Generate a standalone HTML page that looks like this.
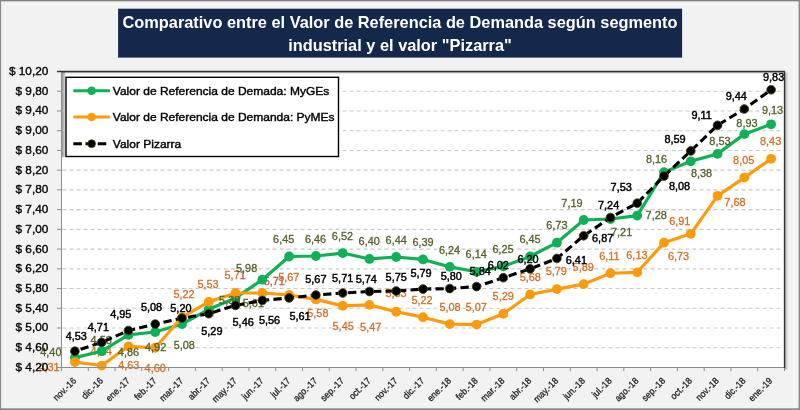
<!DOCTYPE html>
<html lang="es">
<head>
<meta charset="utf-8">
<title>Comparativo entre el Valor de Referencia de Demanda según segmento industrial y el valor "Pizarra"</title>
<style>
html,body{margin:0;padding:0;background:#f2f2f2;}
body{width:800px;height:410px;overflow:hidden;font-family:"Liberation Sans",sans-serif;}
svg{display:block;font-family:"Liberation Sans",sans-serif;will-change:transform;}
.dl text{font-size:10.9px;text-anchor:middle;}
.yl text{font-size:11.8px;text-anchor:end;fill:#000;stroke:#000;stroke-width:0.35px;}
.xl text{font-size:9.3px;text-anchor:end;fill:#222;stroke:#222;stroke-width:0.3px;}
.lg text{font-size:11.5px;fill:#000;stroke:#000;stroke-width:0.4px;}
.tt text{font-size:16.4px;font-weight:bold;fill:#fff;text-anchor:middle;}
</style>
</head>
<body>
<svg width="800" height="410" viewBox="0 0 800 410">
<defs>
<linearGradient id="shR" x1="0" x2="1" y1="0" y2="0"><stop offset="0" stop-color="#000" stop-opacity="0.32"/><stop offset="1" stop-color="#000" stop-opacity="0"/></linearGradient>
<linearGradient id="shB" x1="0" x2="0" y1="0" y2="1"><stop offset="0" stop-color="#000" stop-opacity="0.32"/><stop offset="1" stop-color="#000" stop-opacity="0"/></linearGradient>
<linearGradient id="shL" x1="0" x2="1" y1="0" y2="0"><stop offset="0" stop-color="#000" stop-opacity="0.42"/><stop offset="1" stop-color="#000" stop-opacity="0.12"/></linearGradient>
</defs>

<rect x="0" y="0" width="800" height="410" fill="#f2f2f2"/>
<rect x="5.5" y="4.5" width="789" height="399.5" fill="none" stroke="#f8f8f8" stroke-width="1"/>
<rect x="0" y="0" width="800" height="1.3" fill="#7f7f7f"/>
<rect x="0" y="0" width="1.1" height="410" fill="#8a8a8a"/>
<rect x="798.6" y="0" width="1.4" height="410" fill="#8a8a8a"/>
<rect x="0" y="408.3" width="800" height="1.7" fill="#8a8a8a"/>
<rect x="118.1" y="8.7" width="564" height="48.9" fill="#13284a"/>
<g class="tt">
<text x="400" y="28.2" textLength="555" lengthAdjust="spacingAndGlyphs">Comparativo entre el Valor de Referencia de Demanda según segmento</text>
<text x="400" y="51.4" textLength="223.7" lengthAdjust="spacingAndGlyphs">industrial y el valor "Pizarra"</text>
</g>
<rect x="785.0" y="72.5" width="3.2" height="297.0" fill="url(#shR)"/>
<rect x="61.5" y="71.5" width="723.0" height="296.0" fill="#fff"/>
<rect x="61.5" y="72.0" width="723.0" height="2" fill="url(#shB)"/>
<rect x="61.9" y="72.0" width="3.6" height="85.0" fill="url(#shL)"/>
<g stroke="#c9c9c9" stroke-width="1.1" stroke-dasharray="4 3">
<line x1="62.5" y1="347.77" x2="783.5" y2="347.77"/>
<line x1="62.5" y1="328.03" x2="783.5" y2="328.03"/>
<line x1="62.5" y1="308.30" x2="783.5" y2="308.30"/>
<line x1="62.5" y1="288.57" x2="783.5" y2="288.57"/>
<line x1="62.5" y1="268.83" x2="783.5" y2="268.83"/>
<line x1="62.5" y1="249.10" x2="783.5" y2="249.10"/>
<line x1="62.5" y1="229.37" x2="783.5" y2="229.37"/>
<line x1="62.5" y1="209.63" x2="783.5" y2="209.63"/>
<line x1="62.5" y1="189.90" x2="783.5" y2="189.90"/>
<line x1="62.5" y1="170.17" x2="783.5" y2="170.17"/>
<line x1="62.5" y1="150.43" x2="783.5" y2="150.43"/>
<line x1="62.5" y1="130.70" x2="783.5" y2="130.70"/>
<line x1="62.5" y1="110.97" x2="783.5" y2="110.97"/>
<line x1="62.5" y1="91.23" x2="783.5" y2="91.23"/>
</g>
<g class="dl" fill="#d46f24" stroke="#d46f24" stroke-width="0.3">
<text x="49.09" y="370.88">4,31</text>
<text x="101.22" y="354.53">4,24</text>
<text x="128.74" y="368.89">4,63</text>
<text x="155.22" y="371.77">4,60</text>
<text x="184.10" y="297.88">5,22</text>
<text x="208.08" y="288.09">5,53</text>
<text x="235.16" y="279.41">5,7<tspan fill="#c8504a" stroke="#c8504a">1</tspan></text>
<text x="274.28" y="284.71" fill="#c4573a" stroke="#c4573a">5,71</text>
<text x="288.81" y="280.98">5,67</text>
<text x="317.89" y="317.22">5,58</text>
<text x="343.17" y="330.04">5,45</text>
<text x="370.69" y="330.55">5,47</text>
<text x="396.02" y="296.56">5,33</text>
<text x="422.00" y="303.58">5,22</text>
<text x="450.08" y="311.09">5,08</text>
<text x="476.21" y="310.58">5,07</text>
<text x="503.18" y="300.13">5,29</text>
<text x="530.31" y="280.59">5,68</text>
<text x="556.24" y="274.96">5,79</text>
<text x="583.22" y="271.23">5,89</text>
<text x="609.44" y="260.38">6,11</text>
<text x="636.92" y="258.79">6,13</text>
<text x="678.60" y="260.19">6,73</text>
<text x="679.78" y="225.01">6,91</text>
<text x="734.96" y="206.07">7,68</text>
<text x="743.68" y="163.57">8,05</text>
<text x="770.61" y="145.02">8,43</text>
</g>
<polyline points="74.89,357.63 101.67,351.22 128.44,334.94 155.22,331.98 182.00,324.09 208.78,309.29 235.56,297.94 262.33,279.69 289.11,256.50 315.89,256.01 342.67,253.05 369.44,258.97 396.22,256.99 423.00,259.46 449.78,266.86 476.56,271.79 503.33,266.37 530.11,256.50 556.89,242.69 583.67,219.99 610.44,219.01 637.22,215.55 664.00,172.14 690.78,161.29 717.56,153.89 744.33,134.15 771.11,124.29" fill="none" stroke="#10b056" stroke-width="3.2" stroke-linejoin="round"/>
<g fill="#10b056">
<circle cx="74.89" cy="357.63" r="4.9"/>
<circle cx="101.67" cy="351.22" r="4.9"/>
<circle cx="128.44" cy="334.94" r="4.9"/>
<circle cx="155.22" cy="331.98" r="4.9"/>
<circle cx="182.00" cy="324.09" r="4.9"/>
<circle cx="208.78" cy="309.29" r="4.9"/>
<circle cx="235.56" cy="297.94" r="4.9"/>
<circle cx="262.33" cy="279.69" r="4.9"/>
<circle cx="289.11" cy="256.50" r="4.9"/>
<circle cx="315.89" cy="256.01" r="4.9"/>
<circle cx="342.67" cy="253.05" r="4.9"/>
<circle cx="369.44" cy="258.97" r="4.9"/>
<circle cx="396.22" cy="256.99" r="4.9"/>
<circle cx="423.00" cy="259.46" r="4.9"/>
<circle cx="449.78" cy="266.86" r="4.9"/>
<circle cx="476.56" cy="271.79" r="4.9"/>
<circle cx="503.33" cy="266.37" r="4.9"/>
<circle cx="530.11" cy="256.50" r="4.9"/>
<circle cx="556.89" cy="242.69" r="4.9"/>
<circle cx="583.67" cy="219.99" r="4.9"/>
<circle cx="610.44" cy="219.01" r="4.9"/>
<circle cx="637.22" cy="215.55" r="4.9"/>
<circle cx="664.00" cy="172.14" r="4.9"/>
<circle cx="690.78" cy="161.29" r="4.9"/>
<circle cx="717.56" cy="153.89" r="4.9"/>
<circle cx="744.33" cy="134.15" r="4.9"/>
<circle cx="771.11" cy="124.29" r="4.9"/>
</g>
<polyline points="74.89,362.07 101.67,365.53 128.44,346.29 155.22,347.77 182.00,317.18 208.78,301.89 235.56,293.01 262.33,293.01 289.11,294.98 315.89,299.42 342.67,305.83 369.44,304.85 396.22,311.75 423.00,317.18 449.78,324.09 476.56,324.58 503.33,313.73 530.11,294.49 556.89,289.06 583.67,284.13 610.44,273.27 637.22,272.29 664.00,242.69 690.78,233.81 717.56,195.82 744.33,177.57 771.11,158.82" fill="none" stroke="#ff9a0d" stroke-width="3.2" stroke-linejoin="round"/>
<g fill="#ff9a0d">
<circle cx="74.89" cy="362.07" r="4.9"/>
<circle cx="101.67" cy="365.53" r="4.9"/>
<circle cx="128.44" cy="346.29" r="4.9"/>
<circle cx="155.22" cy="347.77" r="4.9"/>
<circle cx="182.00" cy="317.18" r="4.9"/>
<circle cx="208.78" cy="301.89" r="4.9"/>
<circle cx="235.56" cy="293.01" r="4.9"/>
<circle cx="262.33" cy="293.01" r="4.9"/>
<circle cx="289.11" cy="294.98" r="4.9"/>
<circle cx="315.89" cy="299.42" r="4.9"/>
<circle cx="342.67" cy="305.83" r="4.9"/>
<circle cx="369.44" cy="304.85" r="4.9"/>
<circle cx="396.22" cy="311.75" r="4.9"/>
<circle cx="423.00" cy="317.18" r="4.9"/>
<circle cx="449.78" cy="324.09" r="4.9"/>
<circle cx="476.56" cy="324.58" r="4.9"/>
<circle cx="503.33" cy="313.73" r="4.9"/>
<circle cx="530.11" cy="294.49" r="4.9"/>
<circle cx="556.89" cy="289.06" r="4.9"/>
<circle cx="583.67" cy="284.13" r="4.9"/>
<circle cx="610.44" cy="273.27" r="4.9"/>
<circle cx="637.22" cy="272.29" r="4.9"/>
<circle cx="664.00" cy="242.69" r="4.9"/>
<circle cx="690.78" cy="233.81" r="4.9"/>
<circle cx="717.56" cy="195.82" r="4.9"/>
<circle cx="744.33" cy="177.57" r="4.9"/>
<circle cx="771.11" cy="158.82" r="4.9"/>
</g>
<g class="dl" fill="#4f6228" stroke="#4f6228" stroke-width="0.3">
<text x="50.89" y="355.84">4,40</text>
<text x="101.22" y="344.17">4,53</text>
<text x="128.44" y="356.34">4,86</text>
<text x="155.62" y="350.78">4,92</text>
<text x="184.25" y="349.49">5,08</text>
<text x="229.68" y="304.39">5,38</text>
<text x="253.36" y="306.64">5,61</text>
<text x="246.63" y="271.59">5,98</text>
<text x="283.71" y="242.70">6,45</text>
<text x="315.49" y="243.21">6,46</text>
<text x="342.47" y="239.55">6,52</text>
<text x="369.19" y="245.17">6,40</text>
<text x="396.22" y="243.70">6,44</text>
<text x="423.00" y="245.56">6,39</text>
<text x="449.48" y="253.76">6,24</text>
<text x="476.21" y="258.20">6,14</text>
<text x="503.03" y="252.87">6,25</text>
<text x="530.01" y="242.60">6,45</text>
<text x="556.89" y="229.49">6,73</text>
<text x="571.97" y="207.40">7,19</text>
<text x="621.64" y="236.01">7,21</text>
<text x="656.22" y="219.06">7,28</text>
<text x="656.50" y="163.14">8,16</text>
<text x="701.48" y="177.09">8,38</text>
<text x="719.96" y="145.49">8,53</text>
<text x="746.93" y="126.51">8,93</text>
<text x="772.51" y="114.39">9,13</text>
</g>
<polyline points="74.89,351.22 101.67,342.34 128.44,330.50 155.22,324.09 182.00,318.17 208.78,313.73 235.56,305.34 262.33,300.41 289.11,297.94 315.89,294.98 342.67,293.01 369.44,291.53 396.22,291.03 423.00,289.06 449.78,288.57 476.56,286.59 503.33,277.71 530.11,268.83 556.89,258.47 583.67,235.78 610.44,217.53 637.22,203.22 664.00,176.09 690.78,150.93 717.56,125.27 744.33,108.99 771.11,89.75" fill="none" stroke="#000000" stroke-width="3.1" stroke-dasharray="8.3 4.2" stroke-dashoffset="6.5" stroke-linejoin="round"/>
<g fill="#000000" stroke="#3f4a12" stroke-width="0.9">
<circle cx="74.89" cy="351.22" r="4.35"/>
<circle cx="101.67" cy="342.34" r="4.35"/>
<circle cx="128.44" cy="330.50" r="4.35"/>
<circle cx="155.22" cy="324.09" r="4.35"/>
<circle cx="182.00" cy="318.17" r="4.35"/>
<circle cx="208.78" cy="313.73" r="4.35"/>
<circle cx="235.56" cy="305.34" r="4.35"/>
<circle cx="262.33" cy="300.41" r="4.35"/>
<circle cx="289.11" cy="297.94" r="4.35"/>
<circle cx="315.89" cy="294.98" r="4.35"/>
<circle cx="342.67" cy="293.01" r="4.35"/>
<circle cx="369.44" cy="291.53" r="4.35"/>
<circle cx="396.22" cy="291.03" r="4.35"/>
<circle cx="423.00" cy="289.06" r="4.35"/>
<circle cx="449.78" cy="288.57" r="4.35"/>
<circle cx="476.56" cy="286.59" r="4.35"/>
<circle cx="503.33" cy="277.71" r="4.35"/>
<circle cx="530.11" cy="268.83" r="4.35"/>
<circle cx="556.89" cy="258.47" r="4.35"/>
<circle cx="583.67" cy="235.78" r="4.35"/>
<circle cx="610.44" cy="217.53" r="4.35"/>
<circle cx="637.22" cy="203.22" r="4.35"/>
<circle cx="664.00" cy="176.09" r="4.35"/>
<circle cx="690.78" cy="150.93" r="4.35"/>
<circle cx="717.56" cy="125.27" r="4.35"/>
<circle cx="744.33" cy="108.99" r="4.35"/>
<circle cx="771.11" cy="89.75" r="4.35"/>
</g>
<g class="dl" fill="#000000" stroke="#000000" stroke-width="0.45">
<text x="76.29" y="339.52">4,53</text>
<text x="98.37" y="331.14">4,71</text>
<text x="120.74" y="318.40">4,95</text>
<text x="151.52" y="311.29">5,08</text>
<text x="180.90" y="312.32">5,20</text>
<text x="211.88" y="335.43">5,29</text>
<text x="243.16" y="326.04">5,46</text>
<text x="269.53" y="323.56">5,56</text>
<text x="300.01" y="319.64">5,61</text>
<text x="315.89" y="283.08">5,67</text>
<text x="342.67" y="282.01">5,71</text>
<text x="366.24" y="282.53">5,74</text>
<text x="396.22" y="280.74">5,75</text>
<text x="421.10" y="277.06">5,79</text>
<text x="451.28" y="280.07">5,80</text>
<text x="480.16" y="275.30">5,84</text>
<text x="498.23" y="268.92">6,02</text>
<text x="528.01" y="262.89">6,20</text>
<text x="576.39" y="264.18">6,41</text>
<text x="602.67" y="242.38">6,87</text>
<text x="608.64" y="208.63">7,24</text>
<text x="621.22" y="191.12">7,53</text>
<text x="679.50" y="190.09">8,08</text>
<text x="674.98" y="143.03">8,59</text>
<text x="701.66" y="119.48">9,11</text>
<text x="736.23" y="100.30">9,44</text>
<text x="773.61" y="81.06">9,83</text>
</g>
<g stroke="#8c8c8c" stroke-width="1" fill="none">
<line x1="61.5" y1="71.5" x2="61.5" y2="367.5"/>
<line x1="57.0" y1="367.5" x2="784.5" y2="367.5"/>
<line x1="57.0" y1="367.50" x2="61.5" y2="367.50"/>
<line x1="57.0" y1="347.77" x2="61.5" y2="347.77"/>
<line x1="57.0" y1="328.03" x2="61.5" y2="328.03"/>
<line x1="57.0" y1="308.30" x2="61.5" y2="308.30"/>
<line x1="57.0" y1="288.57" x2="61.5" y2="288.57"/>
<line x1="57.0" y1="268.83" x2="61.5" y2="268.83"/>
<line x1="57.0" y1="249.10" x2="61.5" y2="249.10"/>
<line x1="57.0" y1="229.37" x2="61.5" y2="229.37"/>
<line x1="57.0" y1="209.63" x2="61.5" y2="209.63"/>
<line x1="57.0" y1="189.90" x2="61.5" y2="189.90"/>
<line x1="57.0" y1="170.17" x2="61.5" y2="170.17"/>
<line x1="57.0" y1="150.43" x2="61.5" y2="150.43"/>
<line x1="57.0" y1="130.70" x2="61.5" y2="130.70"/>
<line x1="57.0" y1="110.97" x2="61.5" y2="110.97"/>
<line x1="57.0" y1="91.23" x2="61.5" y2="91.23"/>
<line x1="57.0" y1="71.50" x2="61.5" y2="71.50"/>
<line x1="61.50" y1="367.5" x2="61.50" y2="371.1"/>
<line x1="88.28" y1="367.5" x2="88.28" y2="371.1"/>
<line x1="115.06" y1="367.5" x2="115.06" y2="371.1"/>
<line x1="141.83" y1="367.5" x2="141.83" y2="371.1"/>
<line x1="168.61" y1="367.5" x2="168.61" y2="371.1"/>
<line x1="195.39" y1="367.5" x2="195.39" y2="371.1"/>
<line x1="222.17" y1="367.5" x2="222.17" y2="371.1"/>
<line x1="248.94" y1="367.5" x2="248.94" y2="371.1"/>
<line x1="275.72" y1="367.5" x2="275.72" y2="371.1"/>
<line x1="302.50" y1="367.5" x2="302.50" y2="371.1"/>
<line x1="329.28" y1="367.5" x2="329.28" y2="371.1"/>
<line x1="356.06" y1="367.5" x2="356.06" y2="371.1"/>
<line x1="382.83" y1="367.5" x2="382.83" y2="371.1"/>
<line x1="409.61" y1="367.5" x2="409.61" y2="371.1"/>
<line x1="436.39" y1="367.5" x2="436.39" y2="371.1"/>
<line x1="463.17" y1="367.5" x2="463.17" y2="371.1"/>
<line x1="489.94" y1="367.5" x2="489.94" y2="371.1"/>
<line x1="516.72" y1="367.5" x2="516.72" y2="371.1"/>
<line x1="543.50" y1="367.5" x2="543.50" y2="371.1"/>
<line x1="570.28" y1="367.5" x2="570.28" y2="371.1"/>
<line x1="597.06" y1="367.5" x2="597.06" y2="371.1"/>
<line x1="623.83" y1="367.5" x2="623.83" y2="371.1"/>
<line x1="650.61" y1="367.5" x2="650.61" y2="371.1"/>
<line x1="677.39" y1="367.5" x2="677.39" y2="371.1"/>
<line x1="704.17" y1="367.5" x2="704.17" y2="371.1"/>
<line x1="730.94" y1="367.5" x2="730.94" y2="371.1"/>
<line x1="757.72" y1="367.5" x2="757.72" y2="371.1"/>
<line x1="784.50" y1="367.5" x2="784.50" y2="371.1"/>
</g>
<path d="M57.0 71.5 H784.5 V368.0" fill="none" stroke="#333" stroke-width="1.3"/>
<g class="yl">
<text x="48.3" y="370.90">$ 4,20</text>
<text x="48.3" y="351.17">$ 4,60</text>
<text x="48.3" y="331.43">$ 5,00</text>
<text x="48.3" y="311.70">$ 5,40</text>
<text x="48.3" y="291.97">$ 5,80</text>
<text x="48.3" y="272.23">$ 6,20</text>
<text x="48.3" y="252.50">$ 6,60</text>
<text x="48.3" y="232.77">$ 7,00</text>
<text x="48.3" y="213.03">$ 7,40</text>
<text x="48.3" y="193.30">$ 7,80</text>
<text x="48.3" y="173.57">$ 8,20</text>
<text x="48.3" y="153.83">$ 8,60</text>
<text x="48.3" y="134.10">$ 9,00</text>
<text x="48.3" y="114.37">$ 9,40</text>
<text x="48.3" y="94.63">$ 9,80</text>
<text x="48.3" y="74.90">$ 10,20</text>
</g>
<g class="xl">
<text transform="translate(76.79,381.40) rotate(-45) scale(0.93,1)">nov.-16</text>
<text transform="translate(103.57,381.40) rotate(-45) scale(0.93,1)">dic.-16</text>
<text transform="translate(130.34,381.40) rotate(-45) scale(0.93,1)">ene.-17</text>
<text transform="translate(157.12,381.40) rotate(-45) scale(0.93,1)">feb.-17</text>
<text transform="translate(183.90,381.40) rotate(-45) scale(0.93,1)">mar.-17</text>
<text transform="translate(210.68,381.40) rotate(-45) scale(0.93,1)">abr.-17</text>
<text transform="translate(237.46,381.40) rotate(-45) scale(0.93,1)">may.-17</text>
<text transform="translate(264.23,381.40) rotate(-45) scale(0.93,1)">jun.-17</text>
<text transform="translate(291.01,381.40) rotate(-45) scale(0.93,1)">jul.-17</text>
<text transform="translate(317.79,381.40) rotate(-45) scale(0.93,1)">ago.-17</text>
<text transform="translate(344.57,381.40) rotate(-45) scale(0.93,1)">sep.-17</text>
<text transform="translate(371.34,381.40) rotate(-45) scale(0.93,1)">oct.-17</text>
<text transform="translate(398.12,381.40) rotate(-45) scale(0.93,1)">nov.-17</text>
<text transform="translate(424.90,381.40) rotate(-45) scale(0.93,1)">dic.-17</text>
<text transform="translate(451.68,381.40) rotate(-45) scale(0.93,1)">ene.-18</text>
<text transform="translate(478.46,381.40) rotate(-45) scale(0.93,1)">feb.-18</text>
<text transform="translate(505.23,381.40) rotate(-45) scale(0.93,1)">mar.-18</text>
<text transform="translate(532.01,381.40) rotate(-45) scale(0.93,1)">abr.-18</text>
<text transform="translate(558.79,381.40) rotate(-45) scale(0.93,1)">may.-18</text>
<text transform="translate(585.57,381.40) rotate(-45) scale(0.93,1)">jun.-18</text>
<text transform="translate(612.34,381.40) rotate(-45) scale(0.93,1)">jul.-18</text>
<text transform="translate(639.12,381.40) rotate(-45) scale(0.93,1)">ago.-18</text>
<text transform="translate(665.90,381.40) rotate(-45) scale(0.93,1)">sep.-18</text>
<text transform="translate(692.68,381.40) rotate(-45) scale(0.93,1)">oct.-18</text>
<text transform="translate(719.46,381.40) rotate(-45) scale(0.93,1)">nov.-18</text>
<text transform="translate(746.23,381.40) rotate(-45) scale(0.93,1)">dic.-18</text>
<text transform="translate(773.01,381.40) rotate(-45) scale(0.93,1)">ene.-19</text>
</g>
<rect x="66" y="77.3" width="272.5" height="79.2" fill="#fff" stroke="#000" stroke-width="1.4"/>
<g class="lg">
<line x1="73.3" y1="90.8" x2="109.9" y2="90.8" stroke="#10b056" stroke-width="3"/>
<circle cx="91.6" cy="90.8" r="4.3" fill="#10b056"/>
<text x="112.8" y="94.8" textLength="216.5" lengthAdjust="spacingAndGlyphs">Valor de Referencia de Demada: MyGEs</text>
<line x1="73.3" y1="117.0" x2="109.9" y2="117.0" stroke="#ff9a0d" stroke-width="3"/>
<circle cx="91.6" cy="117.0" r="4.3" fill="#ff9a0d"/>
<text x="112.8" y="120.9" textLength="221.8" lengthAdjust="spacingAndGlyphs">Valor de Referencia de Demanda: PyMEs</text>
<line x1="73.3" y1="143.7" x2="109.9" y2="143.7" stroke="#000" stroke-width="3" stroke-dasharray="8.6 3.6"/>
<circle cx="91.6" cy="143.7" r="3.9" fill="#000" stroke="#3f4a12" stroke-width="0.8"/>
<text x="112.8" y="147.5" textLength="68.5" lengthAdjust="spacingAndGlyphs">Valor Pizarra</text>
</g>
</svg>
</body>
</html>
